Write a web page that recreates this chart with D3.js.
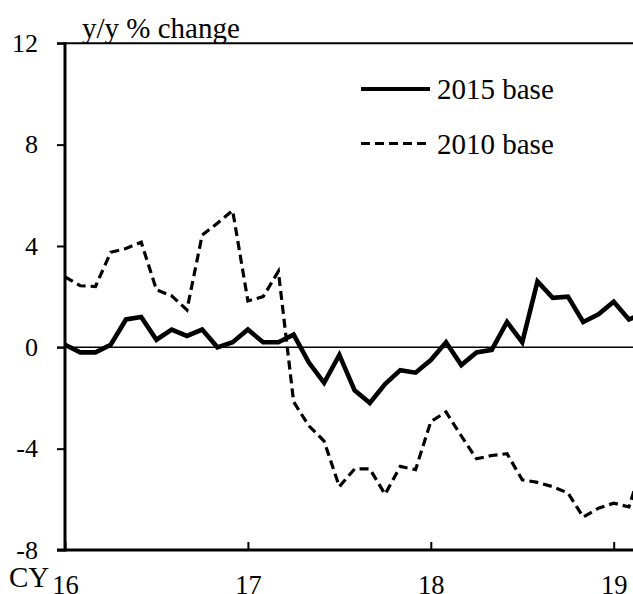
<!DOCTYPE html>
<html>
<head>
<meta charset="utf-8">
<script src="https://cdn.jsdelivr.net/npm/d3@7"></script>
<style>
  body { margin: 0; background: #fff; }
  svg { display: block; font-family: "Liberation Serif", "Times New Roman", serif; }
</style>
</head>
<body>
<svg width="633" height="594"></svg>
<script>
// monthly categories, Jan 2016 to Mar 2019
const months = [
  "2016-01", "2016-02", "2016-03", "2016-04", "2016-05", "2016-06",
  "2016-07", "2016-08", "2016-09", "2016-10", "2016-11", "2016-12",
  "2017-01", "2017-02", "2017-03", "2017-04", "2017-05", "2017-06",
  "2017-07", "2017-08", "2017-09", "2017-10", "2017-11", "2017-12",
  "2018-01", "2018-02", "2018-03", "2018-04", "2018-05", "2018-06",
  "2018-07", "2018-08", "2018-09", "2018-10", "2018-11", "2018-12",
  "2019-01", "2019-02", "2019-03"
];

// y/y % change, 2015 base
const base2015 = [
  0.1, -0.2, -0.2, 0.1, 1.1, 1.2, 0.3, 0.7, 0.45, 0.7, 0.0, 0.2,
  0.7, 0.2, 0.2, 0.5, -0.6, -1.4, -0.3, -1.7, -2.2, -1.45, -0.9, -1.0,
  -0.5, 0.2, -0.7, -0.2, -0.1, 1.0, 0.2, 2.6, 1.95, 2.0, 1.0, 1.3,
  1.8, 1.1, 1.35
];

// y/y % change, 2010 base
const base2010 = [
  2.78, 2.43, 2.4, 3.75, 3.9, 4.15, 2.27, 2.03, 1.48, 4.43, 4.9, 5.4,
  1.83, 2.0, 3.0, -2.15, -3.1, -3.7, -5.5, -4.8, -4.8, -5.8, -4.7, -4.83,
  -2.93, -2.55, -3.5, -4.4, -4.27, -4.2, -5.23, -5.33, -5.5, -5.75, -6.7, -6.35,
  -6.15, -6.3, -4.4
];

// tick labels
const yTicks = [-8, -4, 0, 4, 8, 12];
const xTickMonths = ["2016-01", "2017-01", "2018-01", "2019-01"];
const xTickLabels = ["16", "17", "18", "19"];

// define chart dimensions
const plotLeft = 65;
const plotTop = 43.3;
const plotBottom = 550;
const plotRight = 633;

const svg = d3.select("svg");

// define scales (even monthly spacing)
const x = d3.scaleLinear()
  .domain([0, 36])
  .range([plotLeft, 613.7]);
const y = d3.scaleLinear()
  .domain([-8, 12])
  .range([plotBottom, plotTop]);

// zero line
svg.append("line")
  .attr("x1", plotLeft - 8)
  .attr("x2", plotRight)
  .attr("y1", y(0))
  .attr("y2", y(0))
  .attr("stroke", "#000")
  .attr("stroke-width", 1.5);

// top border
svg.append("line")
  .attr("x1", plotLeft - 8)
  .attr("x2", plotRight)
  .attr("y1", y(12))
  .attr("y2", y(12))
  .attr("stroke", "#000")
  .attr("stroke-width", 2);

// y axis
const yAxis = d3.axisLeft(y)
  .tickValues(yTicks)
  .tickSize(8)
  .tickPadding(19)
  .tickFormat(d => String(d));
const leftAxis = svg.append("g")
  .attr("transform", "translate(" + plotLeft + ",0)")
  .attr("font-family", null)
  .call(yAxis);
leftAxis.attr("font-family", "Liberation Serif");
leftAxis.select(".domain").remove();
leftAxis.selectAll("line")
  .attr("stroke-width", 2);
leftAxis.selectAll("text")
  .attr("font-size", 26)
  .attr("fill", "#000");

// x axis
const xAxis = d3.axisBottom(x)
  .tickValues(xTickMonths.map(m => months.indexOf(m)))
  .tickSize(-8)
  .tickFormat((d, i) => xTickLabels[i]);
const bottomAxis = svg.append("g")
  .attr("transform", "translate(0," + plotBottom + ")")
  .call(xAxis);
bottomAxis.attr("font-family", "Liberation Serif");
bottomAxis.select(".domain").remove();
bottomAxis.selectAll("line")
  .attr("stroke-width", 2);
bottomAxis.selectAll("text")
  .attr("y", 43.5)
  .attr("dy", null)
  .attr("font-size", 26.5)
  .attr("fill", "#000");

// axis lines
svg.append("line")
  .attr("x1", plotLeft - 8)
  .attr("x2", plotRight)
  .attr("y1", plotBottom)
  .attr("y2", plotBottom)
  .attr("stroke", "#000")
  .attr("stroke-width", 3);
svg.append("line")
  .attr("x1", plotLeft)
  .attr("x2", plotLeft)
  .attr("y1", plotTop - 1)
  .attr("y2", plotBottom + 1.5)
  .attr("stroke", "#000")
  .attr("stroke-width", 3);

// define line generator
const line = d3.line()
  .x((d, i) => x(i))
  .y(d => y(d));

// series lines
svg.append("path")
  .datum(base2010)
  .attr("d", line)
  .attr("fill", "none")
  .attr("stroke", "#000")
  .attr("stroke-width", 3.2)
  .attr("stroke-dasharray", "9,5");
svg.append("path")
  .datum(base2015)
  .attr("d", line)
  .attr("fill", "none")
  .attr("stroke", "#000")
  .attr("stroke-width", 4.6);

// legend
const legend = [
  { label: "2015 base", y: 89, width: 4.2, dash: null },
  { label: "2010 base", y: 143.5, width: 3.2, dash: "9,5" }
];
legend.forEach(l => {
  svg.append("line")
    .attr("x1", 361)
    .attr("x2", 430)
    .attr("y1", l.y)
    .attr("y2", l.y)
    .attr("stroke", "#000")
    .attr("stroke-width", l.width)
    .attr("stroke-dasharray", l.dash);
  svg.append("text")
    .attr("x", 437)
    .attr("y", l.y + 10)
    .attr("font-size", 29)
    .text(l.label);
});

// axis titles
svg.append("text")
  .attr("x", 82)
  .attr("y", 38)
  .attr("font-size", 29)
  .text("y/y % change");
svg.append("text")
  .attr("x", 9)
  .attr("y", 587)
  .attr("font-size", 29)
  .text("CY");
</script>
</body>
</html>
